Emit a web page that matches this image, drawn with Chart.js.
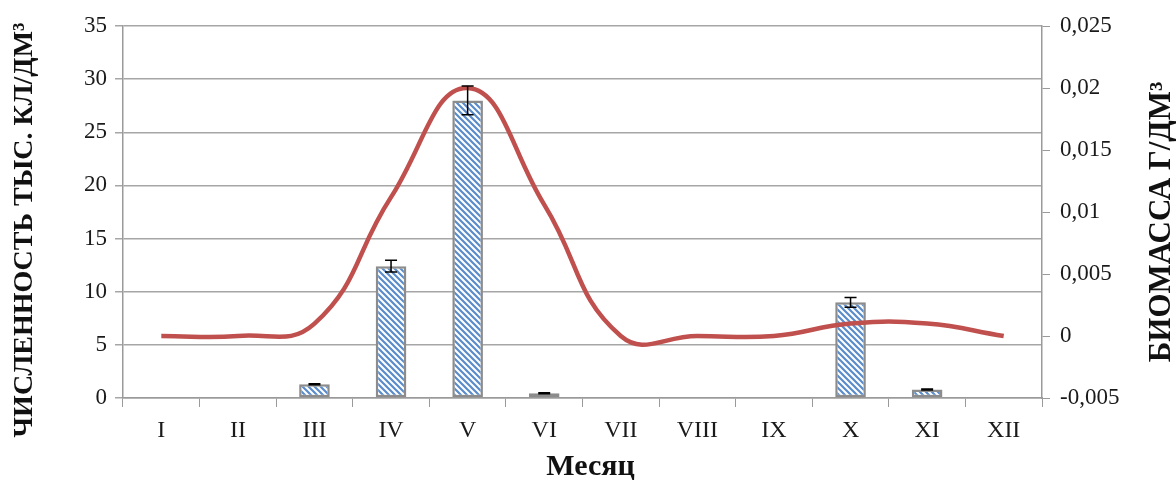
<!DOCTYPE html>
<html>
<head>
<meta charset="utf-8">
<script src="https://cdn.jsdelivr.net/npm/chart.js@4.4.1/dist/chart.umd.min.js"></script>
<style>
  html, body { margin: 0; padding: 0; background: #fff; }
  #wrap { width: 1176px; height: 482px; }
</style>
</head>
<body>
<div id="wrap"><canvas id="chart" width="1176" height="482"></canvas></div>
<script>
// months
const months = ['I', 'II', 'III', 'IV', 'V', 'VI', 'VII', 'VIII', 'IX', 'X', 'XI', 'XII'];
// численность, тыс. кл/дм3 (bars) and its error
const abundance = [0, 0, 1.3, 12.4, 28, 0.45, 0, 0, 0, 9, 0.8, 0];
const abundanceErr = [0, 0, 0.05, 0.55, 1.35, 0.05, 0, 0, 0, 0.45, 0.05, 0];
// биомасса, г/дм3 (line)
const biomass = [0, 0, 0.001, 0.0112, 0.02, 0.0106, 0, 0, 0, 0.001, 0.001, 0];

const leftTicks = [0, 5, 10, 15, 20, 25, 30, 35];
const rightTicks = [-0.005, 0, 0.005, 0.01, 0.015, 0.02, 0.025];

const serif = '"Liberation Serif", "Times New Roman", serif';

function stripePattern() {
  const n = 6;
  const c = document.createElement('canvas');
  c.width = n; c.height = n;
  const g = c.getContext('2d');
  g.fillStyle = '#ffffff';
  g.fillRect(0, 0, n, n);
  g.strokeStyle = '#5a8ccb';
  g.lineWidth = 2.2;
  g.beginPath();
  for (const o of [-n, 0, n]) {
    g.moveTo(o - 1, -1);
    g.lineTo(o + n + 1, n + 1);
  }
  g.stroke();
  return g.createPattern(c, 'repeat');
}

// error bars drawn through the y scale
const errorBars = {
  id: 'errorBars',
  afterDatasetsDraw(chart) {
    const meta = chart.getDatasetMeta(1);
    const y = chart.scales.y;
    const ctx = chart.ctx;
    ctx.save();
    ctx.strokeStyle = '#000';
    ctx.lineWidth = 1.5;
    meta.data.forEach((bar, i) => {
      const e = abundanceErr[i];
      if (!e) return;
      const top = y.getPixelForValue(abundance[i] + e);
      const bot = y.getPixelForValue(abundance[i] - e);
      const cap = 6;
      ctx.beginPath();
      ctx.moveTo(bar.x, top); ctx.lineTo(bar.x, bot);
      ctx.moveTo(bar.x - cap, top); ctx.lineTo(bar.x + cap, top);
      ctx.moveTo(bar.x - cap, bot); ctx.lineTo(bar.x + cap, bot);
      ctx.stroke();
    });
    ctx.restore();
  }
};

// axis titles (both vertical ones read bottom-to-top)
const axisTitles = {
  id: 'axisTitles',
  afterDraw(chart) {
    const ctx = chart.ctx;
    const area = chart.chartArea;
    ctx.save();
    ctx.fillStyle = '#111';
    ctx.textAlign = 'center';
    ctx.textBaseline = 'middle';

    ctx.font = 'bold 30px ' + serif;
    ctx.fillText('Месяц', (area.left + area.right) / 2 + 8, 467);

    ctx.save();
    ctx.translate(25, 230);
    ctx.rotate(-Math.PI / 2);
    ctx.font = 'bold 28px ' + serif;
    ctx.fillText('ЧИСЛЕННОСТЬ ТЫС. КЛ/ДМ³', 0, 0);
    ctx.restore();

    ctx.save();
    ctx.translate(1162, 222);
    ctx.rotate(-Math.PI / 2);
    ctx.font = 'bold 31px ' + serif;
    ctx.fillText('БИОМАССА Г/ДМ³', 0, 0);
    ctx.restore();

    ctx.restore();
  }
};

new Chart(document.getElementById('chart'), {
  type: 'bar',
  data: {
    labels: months,
    datasets: [
      {
        type: 'line',
        label: 'Биомасса',
        data: biomass,
        yAxisID: 'y2',
        borderColor: '#c0504d',
        borderWidth: 4.5,
        tension: 0.45,
        pointRadius: 0,
        fill: false,
        order: 0
      },
      {
        label: 'Численность',
        data: abundance,
        yAxisID: 'y',
        backgroundColor: stripePattern(),
        borderColor: '#8c8c8c',
        borderWidth: 2.5,
        borderSkipped: false,
        categoryPercentage: 1,
        barPercentage: 0.4,
        order: 1
      }
    ]
  },
  options: {
    responsive: false,
    animation: false,
    layout: { padding: { top: 26, left: 10, right: 6, bottom: 6 } },
    plugins: { legend: { display: false }, tooltip: { enabled: false } },
    scales: {
      x: {
        offset: true,
        grid: { display: true, drawOnChartArea: false, offset: true, tickLength: 9, color: '#9a9a9a' },
        border: { color: '#9a9a9a', width: 1.5 },
        ticks: { color: '#1a1a1a', font: { family: serif, size: 24 }, padding: 9 },
        afterFit(s) { s.height = 78; }
      },
      y: {
        position: 'left',
        min: 0, max: 35,
        afterBuildTicks(s) { s.ticks = leftTicks.map(v => ({ value: v })); },
        grid: { color: '#a6a6a6', lineWidth: 1.5, tickLength: 8 },
        border: { color: '#9a9a9a', width: 1.5 },
        ticks: { color: '#1a1a1a', font: { family: serif, size: 23 }, padding: 8 },
        afterFit(s) { s.width = 113; }
      },
      y2: {
        position: 'right',
        min: -0.005, max: 0.025,
        afterBuildTicks(s) { s.ticks = rightTicks.map(v => ({ value: v })); },
        grid: { drawOnChartArea: false, color: '#9a9a9a', tickLength: 8 },
        border: { color: '#9a9a9a', width: 1.5 },
        ticks: {
          color: '#1a1a1a', font: { family: serif, size: 23 }, padding: 10,
          callback: v => String(Math.round(v * 1000) / 1000).replace('.', ',')
        },
        afterFit(s) { s.width = 128; }
      }
    }
  },
  plugins: [errorBars, axisTitles]
});
</script>
</body>
</html>
